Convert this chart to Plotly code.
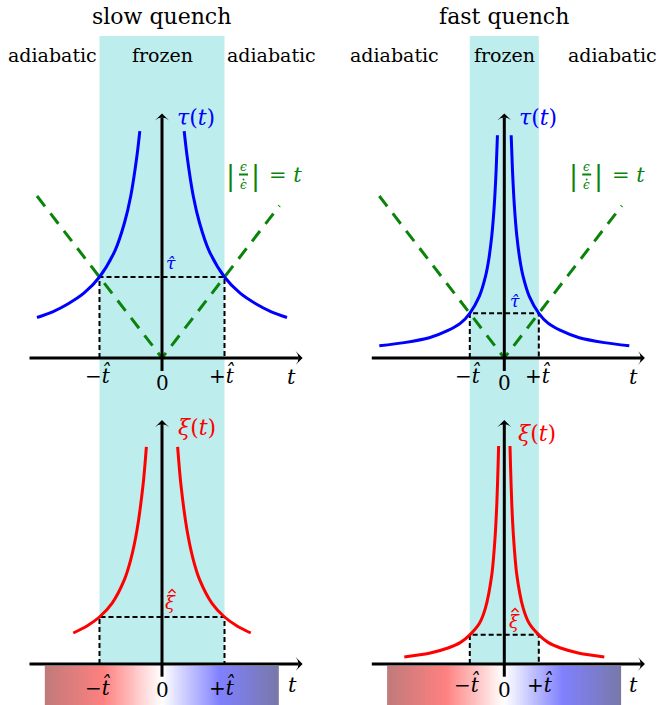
import numpy as np
import plotly.graph_objects as go

W, H = 661, 705

# ---------------- data (t in units of slow t-hat) ----------------
t_hat = {"slow": 1.0, "fast": 0.552}
tau_hat = {"slow": 1.0, "fast": 0.552}
xi_hat = {"slow": 1.0, "fast": 0.62}

tau_slow_t = [0.355, 0.4, 0.5, 0.6, 0.75, 1.0, 1.25, 1.5, 1.75, 2.0]
tau_slow_v = [2.80, 2.50, 2.00, 1.67, 1.33, 1.00, 0.80, 0.67, 0.57, 0.50]
tau_fast_t = [0.11, 0.13, 0.16, 0.2, 0.25, 0.3, 0.4, 0.552, 0.7, 0.9, 1.2, 1.6, 2.0]
tau_fast_v = [2.75, 2.33, 1.89, 1.51, 1.21, 1.01, 0.76, 0.552, 0.43, 0.34, 0.25, 0.19, 0.15]
xi_slow_t = [0.25, 0.3, 0.4, 0.5, 0.6, 0.8, 1.0, 1.2, 1.42]
xi_slow_v = [4.62, 3.85, 2.85, 2.22, 1.80, 1.29, 1.00, 0.81, 0.66]
xi_fast_t = [0.091, 0.1, 0.12, 0.15, 0.2, 0.3, 0.4, 0.552, 0.7, 0.9, 1.2, 1.6]
xi_fast_v = [4.64, 4.2, 3.4, 2.65, 1.9, 1.2, 0.86, 0.62, 0.46, 0.34, 0.23, 0.15]
green_t = [-2.0, 0.0, 1.88]
green_v = [2.0, 0.0, 1.88]

# axis extents (schematic)
t_axis = [-2.12, 2.25]
top_vaxis = [-0.16, 3.02]
bot_vaxis = [-0.27, 5.19]
cbar_t = [-1.875, 1.875]
cbar_colors = [[0.0, "rgb(192,122,122)"], [0.25, "rgb(255,128,128)"], [0.5, "rgb(255,255,255)"],
               [0.75, "rgb(128,128,255)"], [1.0, "rgb(120,120,168)"]]

# ---------------- layout geometry (pixels) ----------------
PX_T, PX_TAU, PX_XI = 62.5, 81.0, 47.0
X0 = {"slow": 162.0, "fast": 504.3}
Y0_TOP, Y0_BOT = 358.0, 664.0
SPLIT_X, SPLIT_Y = 330.0, 400.0

BLUE, RED, GREEN = "#0000ff", "#ff0000", "#0a830a"
BAND = "rgb(190,237,237)"
FONT = "DejaVu Serif"

fig = go.Figure()

axes = {
    ("slow", "top"): ("x", "y"),
    ("fast", "top"): ("x2", "y2"),
    ("slow", "bot"): ("x3", "y3"),
    ("fast", "bot"): ("x4", "y4"),
}


def P(x, y):
    return x / W, 1 - y / H


def mirror(ts, vs):
    xs = [-t for t in ts[::-1]]
    ys = list(vs[::-1])
    return xs, ys


def add_line(xs, ys, ax, color, width, dash=None, shape="linear"):
    xa, ya = ax
    fig.add_trace(go.Scatter(x=xs, y=ys, mode="lines", xaxis=xa, yaxis=ya,
                             line=dict(color=color, width=width, dash=dash, shape=shape, smoothing=0.8),
                             hoverinfo="skip", showlegend=False))


def add_arrow(xs, ys, ax):
    xa, ya = ax
    fig.add_trace(go.Scatter(x=xs, y=ys, mode="lines+markers", xaxis=xa, yaxis=ya,
                             line=dict(color="black", width=3),
                             marker=dict(symbol=["circle", "arrow-wide"], size=[0, 10], angleref="previous",
                                         color="black", opacity=1, line=dict(width=0, color="black")),
                             hoverinfo="skip", showlegend=False))


# colour bars below bottom axes
N = 240
edges = np.linspace(cbar_t[0], cbar_t[1], N + 1)
mids = (edges[:-1] + edges[1:]) / 2
for q in ["slow", "fast"]:
    xa, ya = axes[(q, "bot")]
    fig.add_trace(go.Heatmap(x=edges, y=[-0.04, -0.95], z=[mids], colorscale=cbar_colors,
                             zmin=cbar_t[0], zmax=cbar_t[1], showscale=False, xaxis=xa, yaxis=ya,
                             hoverinfo="skip"))

curves = {
    ("slow", "top"): (tau_slow_t, tau_slow_v, BLUE, tau_hat["slow"]),
    ("fast", "top"): (tau_fast_t, tau_fast_v, BLUE, tau_hat["fast"]),
    ("slow", "bot"): (xi_slow_t, xi_slow_v, RED, xi_hat["slow"]),
    ("fast", "bot"): (xi_fast_t, xi_fast_v, RED, xi_hat["fast"]),
}

for (q, row), (ts, vs, col, yh) in curves.items():
    ax = axes[(q, row)]
    th = t_hat[q]
    # dashed box
    add_line([-th, -th, th, th], [0, yh, yh, 0], ax, "black", 2, dash="5px,3px")
    if row == "top":
        add_line(green_t, green_v, ax, GREEN, 3, dash="13px,9px")
    # curve branches
    xl, yl = mirror(ts, vs)
    add_line(xl, yl, ax, col, 3, shape="spline")
    add_line(list(ts), list(vs), ax, col, 3, shape="spline")
    # axes
    add_arrow(t_axis, [0, 0], ax)
    add_arrow([0, 0], top_vaxis if row == "top" else bot_vaxis, ax)

# frozen bands
shapes = []
for q, xa in [("slow", "x"), ("fast", "x2")]:
    shapes.append(dict(type="rect", xref=xa, yref="paper", x0=-t_hat[q], x1=t_hat[q],
                       y0=1 - Y0_BOT / H, y1=1 - 36 / H, fillcolor=BAND, line=dict(width=0), layer="below"))

# fraction bars and dots of |eps/eps_dot|
for fx in [243.5, 586.7]:
    x0p, y0p = P(fx - 4.5, 174.5)
    x1p, _ = P(fx + 4.5, 174.5)
    shapes.append(dict(type="line", xref="paper", yref="paper", x0=x0p, x1=x1p, y0=y0p, y1=y0p,
                       line=dict(color=GREEN, width=2)))
    dx0, dy0 = P(fx - 0.9, 178.6)
    dx1, dy1 = P(fx + 0.9, 180.4)
    shapes.append(dict(type="circle", xref="paper", yref="paper", x0=dx0, x1=dx1, y0=dy1, y1=dy0,
                       fillcolor=GREEN, line=dict(width=0)))


# circumflex accents over xi
def hat_path(cx, top):
    a = P(cx - 3.5, top + 3.5)
    b = P(cx, top)
    c = P(cx + 3.5, top + 3.5)
    return "M {} {} L {} {} L {} {}".format(a[0], a[1], b[0], b[1], c[0], c[1])


for (hx, ht) in [(172, 589.5), (515, 608.5)]:
    shapes.append(dict(type="path", xref="paper", yref="paper", path=hat_path(hx, ht),
                       line=dict(color=RED, width=1.3)))

ann = []


def T(text, x, y, size, color="black"):
    px, py = P(x, y)
    ann.append(dict(text=text, x=px, y=py, xref="paper", yref="paper", showarrow=False,
                    xanchor="center", yanchor="middle", font=dict(family=FONT, size=size, color=color)))


# titles & regimes
T("slow quench", 161, 16, 22)
T("fast quench", 504, 16, 22)
T("adiabatic", 52, 55, 19)
T("frozen", 162, 55, 19)
T("adiabatic", 271, 55, 19)
T("adiabatic", 394, 55, 19)
T("frozen", 504, 55, 19)
T("adiabatic", 612, 55, 19)

# top panel labels
T("<i>τ</i>(<i>t</i>)", 196, 117, 22, BLUE)
T("<i>τ</i>(<i>t</i>)", 538, 117, 22, BLUE)
T("<i>τ̂</i>", 171, 263, 17, BLUE)
T("<i>τ̂</i>", 515, 301, 17, BLUE)
for off in [0.0, 343.0]:
    T("|", 230.7 + off, 176, 27, GREEN)
    T("|", 255.0 + off, 176, 27, GREEN)
    T("<i>ϵ</i>", 243.5 + off, 167, 12, GREEN)
    T("<i>ϵ</i>", 243.5 + off, 185, 12, GREEN)
    T("= <i>t</i>", 285.5 + off, 175, 21, GREEN)

# bottom panel labels
T("<i>ξ</i>(<i>t</i>)", 197, 427, 22, RED)
T("<i>ξ</i>(<i>t</i>)", 537, 433, 22, RED)
T("<i>ξ</i>", 171, 602, 18, RED)
T("<i>ξ</i>", 514, 621, 18, RED)

# tick labels
ticks = [
    (98, 375, 222, 375, 162, 383, 291, 377),
    (468, 375, 538, 375, 504, 383, 633, 377),
    (98, 687, 222, 687, 162, 690, 292, 685),
    (467, 684, 540, 684, 504, 690, 633, 685),
]
for (mx, my, px_, py_, zx, zy, tx, ty) in ticks:
    T("−<i>t̂</i>", mx, my, 20)
    T("+<i>t̂</i>", px_, py_, 20)
    T("0", zx, zy, 20)
    T("<i>t</i>", tx, ty, 21)

layout = dict(width=W, height=H, margin=dict(l=0, r=0, t=0, b=0), paper_bgcolor="white",
              plot_bgcolor="rgba(0,0,0,0)", shapes=shapes, annotations=ann, showlegend=False)


def xrange_for(q, lo, hi):
    return [(lo - X0[q]) / PX_T, (hi - X0[q]) / PX_T]


specs = {
    "xaxis": dict(domain=[0, SPLIT_X / W], range=xrange_for("slow", 0, SPLIT_X)),
    "xaxis2": dict(domain=[SPLIT_X / W, 1], range=xrange_for("fast", SPLIT_X, W)),
    "xaxis3": dict(domain=[0, SPLIT_X / W], range=xrange_for("slow", 0, SPLIT_X)),
    "xaxis4": dict(domain=[SPLIT_X / W, 1], range=xrange_for("fast", SPLIT_X, W)),
    "yaxis": dict(domain=[1 - SPLIT_Y / H, 1], range=[(Y0_TOP - SPLIT_Y) / PX_TAU, Y0_TOP / PX_TAU]),
    "yaxis2": dict(domain=[1 - SPLIT_Y / H, 1], range=[(Y0_TOP - SPLIT_Y) / PX_TAU, Y0_TOP / PX_TAU]),
    "yaxis3": dict(domain=[0, 1 - SPLIT_Y / H], range=[(Y0_BOT - H) / PX_XI, (Y0_BOT - SPLIT_Y) / PX_XI]),
    "yaxis4": dict(domain=[0, 1 - SPLIT_Y / H], range=[(Y0_BOT - H) / PX_XI, (Y0_BOT - SPLIT_Y) / PX_XI]),
}
for k, v in specs.items():
    v.update(visible=False, fixedrange=True)
    if k.startswith("yaxis"):
        v["anchor"] = "x" + k[5:]
    else:
        v["anchor"] = "y" + k[5:]
    layout[k] = v

fig.update_layout(**layout)
fig.write_html("out.html")
